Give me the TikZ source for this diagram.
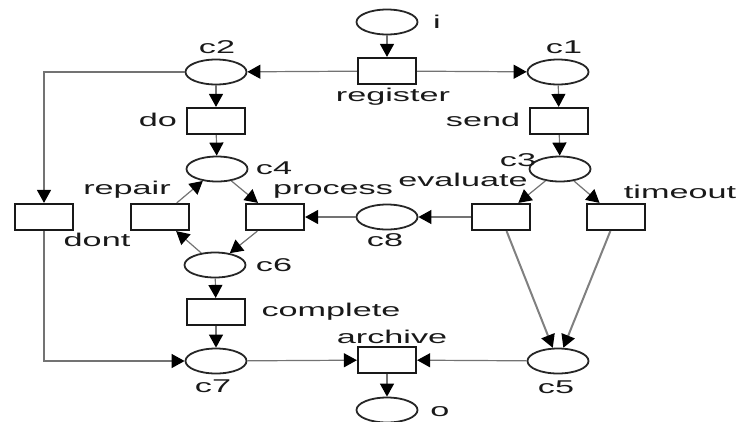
\documentclass[tikz,border=0pt]{standalone}
\usepackage{fontspec}
\setmainfont{Liberation Sans}
\usetikzlibrary{shapes.geometric,arrows.meta}
\newcommand{\wl}[1]{\scalebox{1.85}[1]{#1}}
\begin{document}
\begin{tikzpicture}[x=1pt,y=-1pt,
  place/.style={draw=black!85, line width=1.8pt, ellipse, minimum width=61pt, minimum height=25pt, inner sep=0pt},
  trans/.style={draw=black!90, line width=2.2pt, rectangle, minimum width=58pt, minimum height=26pt, inner sep=0pt},
  arc/.style={draw=black!55, line width=1.2pt, -{Triangle[length=13pt,width=14pt,black]}},
  dblarc/.style={arc, line width=2pt, draw=black!50},
  lbl/.style={font=\fontsize{18.5}{20}\selectfont, text=black!90, inner sep=0pt}]
\useasboundingbox (0,0) rectangle (738,421);
% places
\node[place] (i)  at (387,22) {};
\node[place] (c2) at (216,72) {};
\node[place] (c1) at (558,72) {};
\node[place] (c4) at (217,169) {};
\node[place] (c3) at (560,169) {};
\node[place] (c8) at (387,217) {};
\node[place] (c6) at (215,265) {};
\node[place] (c7) at (216,361) {};
\node[place] (c5) at (558,361) {};
\node[place] (o)  at (387,410) {};
% transitions
\node[trans] (register) at (387,71) {};
\node[trans] (do)       at (216,121) {};
\node[trans] (send)     at (559,121) {};
\node[trans] (dont)     at (44,217) {};
\node[trans] (repair)   at (160,217) {};
\node[trans] (process)  at (275,217) {};
\node[trans] (evaluate) at (501,217) {};
\node[trans] (timeout)  at (616,217) {};
\node[trans] (complete) at (216,312) {};
\node[trans] (archive)  at (387,360) {};
% labels
\node[lbl] (li)  at (437,22) {\wl{i}};
\node[lbl] (lc2) at (217,47) {\wl{c2}};
\node[lbl] (lc1) at (564,47) {\wl{c1}};
\node[lbl] (lregister) at (393,97) {\wl{register}};
\node[lbl] (ldo) at (158,120) {\wl{do}};
\node[lbl] (lsend) at (483,120) {\wl{send}};
\node[lbl] (lc4) at (274,168) {\wl{c4}};
\node[lbl] (lc3) at (518,160) {\wl{c3}};
\node[lbl] (lrepair) at (127,190) {\wl{repair}};
\node[lbl] (lprocess) at (333,191) {\wl{process}};
\node[lbl] (levaluate) at (463,180) {\wl{evaluate}};
\node[lbl] (ltimeout) at (680,192) {\wl{timeout}};
\node[lbl] (ldont) at (97,240) {\wl{dont}};
\node[lbl] (lc8) at (385,240) {\wl{c8}};
\node[lbl] (lc6) at (274,265) {\wl{c6}};
\node[lbl] (lcomplete) at (331,312) {\wl{complete}};
\node[lbl] (larchive) at (392,337) {\wl{archive}};
\node[lbl] (lc7) at (213,386) {\wl{c7}};
\node[lbl] (lc5) at (556,387) {\wl{c5}};
\node[lbl] (lo) at (440,412) {\wl{o}};
% arcs
\draw[arc] (i) -- (register);
\draw[arc] (register) -- (c1);
\draw[arc] (register) -- (c2);
\draw[arc] (c2) -- (do);
\draw[arc] (do) -- (c4);
\draw[arc] (c1) -- (send);
\draw[arc] (send) -- (c3);
\draw[arc] (c2.west) -| (dont.north);
\draw[arc] (dont.south) |- (c7.west);
\draw[arc] (c4) -- (process);
\draw[arc] (repair) -- (c4);
\draw[arc] (c6) -- (repair);
\draw[arc] (process) -- (c6);
\draw[arc] (c3) -- (evaluate);
\draw[arc] (c3) -- (timeout);
\draw[arc] (evaluate) -- (c8);
\draw[arc] (c8) -- (process);
\draw[dblarc] (evaluate) -- (c5);
\draw[dblarc] (timeout) -- (c5);
\draw[arc] (c5) -- (archive);
\draw[arc] (c7) -- (archive);
\draw[arc] (c6) -- (complete);
\draw[arc] (complete) -- (c7);
\draw[arc] (archive) -- (o);
\end{tikzpicture}
\end{document}
